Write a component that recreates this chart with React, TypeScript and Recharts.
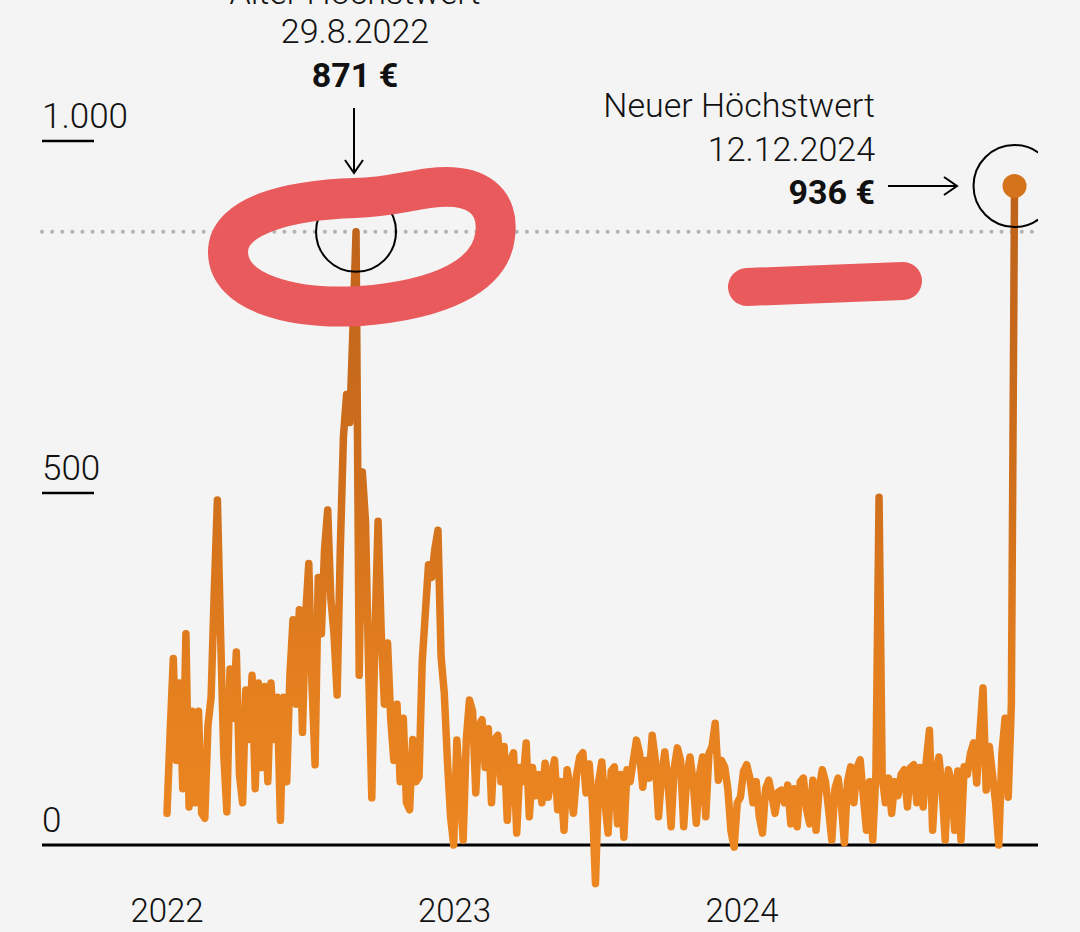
import React from "react";
import { LineChart, Line, XAxis, YAxis, ReferenceLine, ReferenceDot } from "recharts";

// Day-ahead price, €/MWh, sampled every 4 days starting 1.1.2022
const START_DAY = 0;
const STEP_DAYS = 4;
const prices: number[] = [
  45, 160, 265, 120, 230, 80, 300, 54, 190, 60,
  190, 45, 38, 170, 210, 360, 490, 300, 130, 47,
  250, 180, 274, 100, 60, 220, 150, 241, 80, 230,
  110, 225, 90, 230, 150, 210, 35, 210, 90, 240,
  320, 200, 334, 160, 325, 400, 230, 114, 380, 300,
  420, 476, 350, 300, 213, 420, 580, 640, 600, 730,
  871, 241, 530, 460, 250, 67, 300, 460, 300, 200,
  287, 180, 120, 200, 90, 180, 60, 50, 150, 90,
  97, 260, 330, 398, 380, 420, 447, 267, 216, 120,
  40, 0, 149, 80, 7, 150, 206, 190, 74, 170,
  178, 110, 165, 60, 150, 156, 90, 140, 35, 120,
  131, 17, 110, 90, 145, 40, 110, 70, 100, 60,
  116, 68, 100, 121, 50, 90, 21, 107, 80, 45,
  100, 125, 131, 74, 115, 60, -55, 90, 118, 60,
  17, 105, 111, 30, 100, 11, 107, 90, 120, 149,
  130, 82, 120, 95, 156, 120, 40, 100, 132, 90,
  26, 110, 138, 120, 26, 100, 125, 90, 31, 100,
  125, 40, 130, 140, 173, 92, 120, 111, 80, 20,
  -3, 60, 68, 105, 114, 95, 60, 90, 40, 17,
  80, 92, 70, 45, 75, 78, 60, 85, 30, 80,
  26, 90, 95, 50, 30, 92, 21, 80, 107, 90,
  50, 7, 80, 95, 60, 3, 90, 111, 60, 110,
  121, 70, 21, 90, 7, 102, 494, 97, 60, 95,
  45, 90, 70, 100, 107, 54, 110, 114, 60, 110,
  54, 120, 163, 21, 100, 125, 80, 7, 107, 90,
  21, 105, 7, 111, 100, 130, 145, 88, 160, 223,
  78, 140, 100, 60, 0, 131, 180, 68, 200, 936,
];

const xTicks = [0, 365, 730];
const xTickLabels = ["2022", "2023", "2024"];
const yTicks = [0, 500, 1000];
const yTickLabels = ["0", "500", "1.000"];

const oldPeak = { day: 240, price: 871, title: "Alter Höchstwert", date: "29.8.2022", label: "871 €" };
const newPeak = { day: 1076, price: 936, title: "Neuer Höchstwert", date: "12.12.2024", label: "936 €" };

const data = prices.map((price, i) => ({ day: START_DAY + i * STEP_DAYS, price }));

const FONT = "Roboto, 'Liberation Sans', Arial, sans-serif";
const PLOT_LEFT = 42;
const TEXT = "#111";

const XTick = (props: any) => {
  const { x, payload } = props;
  const idx = xTicks.indexOf(payload.value);
  return (
    <text x={x} y={922} textAnchor="middle" fontFamily={FONT} fontWeight={300} fontSize={33} fill={TEXT}>
      {xTickLabels[idx]}
    </text>
  );
};

const YTick = (props: any) => {
  const { y, payload } = props;
  const idx = yTicks.indexOf(payload.value);
  return (
    <g>
      <text x={PLOT_LEFT} y={y - 13} textAnchor="start" fontFamily={FONT} fontWeight={300} fontSize={35} fill={TEXT}>
        {yTickLabels[idx]}
      </text>
      {payload.value !== 0 && (
        <line x1={PLOT_LEFT} x2={PLOT_LEFT + 52} y1={y} y2={y} stroke="#000" strokeWidth={2.5} />
      )}
    </g>
  );
};

export default function App() {
  return (
    <div
      style={{
        position: "absolute",
        left: 0,
        top: 0,
        width: 1080,
        height: 932,
        background: "#F4F4F4",
        overflow: "hidden",
      }}
    >
      <LineChart width={1080} height={932} data={data} margin={{ top: 100, right: 42, bottom: 0, left: 41 }}>
        <defs>
          <linearGradient id="lineGrad" x1="0" y1="180" x2="0" y2="845" gradientUnits="userSpaceOnUse">
            <stop offset="0%" stopColor="#BD621B" />
            <stop offset="45%" stopColor="#CF6F1C" />
            <stop offset="75%" stopColor="#E47F1F" />
            <stop offset="100%" stopColor="#EC8621" />
          </linearGradient>
        </defs>
        <XAxis
          dataKey="day"
          type="number"
          domain={[-158.7, 1105.8]}
          ticks={xTicks}
          interval={0}
          axisLine={false}
          tickLine={false}
          height={32}
          tick={XTick}
          allowDataOverflow
        />
        <YAxis
          type="number"
          domain={[-78.125, 1058.24]}
          ticks={yTicks}
          interval={0}
          width={1}
          axisLine={false}
          tickLine={false}
          tick={YTick}
          allowDataOverflow
        />
        <ReferenceLine
          y={oldPeak.price}
          stroke="#B3B3B3"
          strokeWidth={4}
          strokeDasharray="0.1 10"
          strokeLinecap="round"
        />
        <ReferenceLine y={0} stroke="#000" strokeWidth={3} />
        <Line
          type="linear"
          dataKey="price"
          stroke="url(#lineGrad)"
          strokeWidth={7.5}
          strokeLinejoin="round"
          strokeLinecap="round"
          dot={false}
          isAnimationActive={false}
        />
        <ReferenceDot x={oldPeak.day} y={oldPeak.price} r={40} fill="none" stroke="#000" strokeWidth={2} />
        <ReferenceDot
          x={newPeak.day}
          y={newPeak.price}
          r={41}
          fill="none"
          stroke="#000"
          strokeWidth={2}
          ifOverflow="hidden"
        />
        <ReferenceDot x={newPeak.day} y={newPeak.price} r={12} fill="#D4731B" stroke="none" />
      </LineChart>

      <svg
        width={1080}
        height={932}
        style={{ position: "absolute", left: 0, top: 0, pointerEvents: "none" }}
      >
        <g fontFamily={FONT} fill={TEXT}>
          <text x={355} y={4} textAnchor="middle" fontSize={34} fontWeight={300}>{oldPeak.title}</text>
          <text x={355} y={43} textAnchor="middle" fontSize={34} fontWeight={300}>{oldPeak.date}</text>
          <text x={355} y={87} textAnchor="middle" fontSize={34} fontWeight={700}>{oldPeak.label}</text>
          <text x={875} y={117} textAnchor="end" fontSize={34} fontWeight={300}>{newPeak.title}</text>
          <text x={875} y={161} textAnchor="end" fontSize={34} fontWeight={300}>{newPeak.date}</text>
          <text x={875} y={204} textAnchor="end" fontSize={34} fontWeight={700}>{newPeak.label}</text>
        </g>
        <g stroke="#000" strokeWidth={2} fill="none">
          <line x1={354} y1={108} x2={354} y2={172} />
          <polyline points="345,160 354,173 363,160" />
          <line x1={888} y1={186} x2={956} y2={186} />
          <polyline points="944,177 957,186 944,195" />
        </g>
        <g stroke="#E95A5C" fill="none" strokeLinecap="round" strokeLinejoin="round">
          <path
            d="M 228 252 C 228 215, 290 200, 355 198 C 390 197, 400 192, 430 188 C 478 182, 500 202, 495 236 C 490 276, 440 300, 360 306 C 290 310, 228 292, 228 252 Z"
            strokeWidth={40}
          />
          <path d="M 747 287 C 800 285, 850 283, 903 281" strokeWidth={38} />
        </g>
      </svg>
    </div>
  );
}
